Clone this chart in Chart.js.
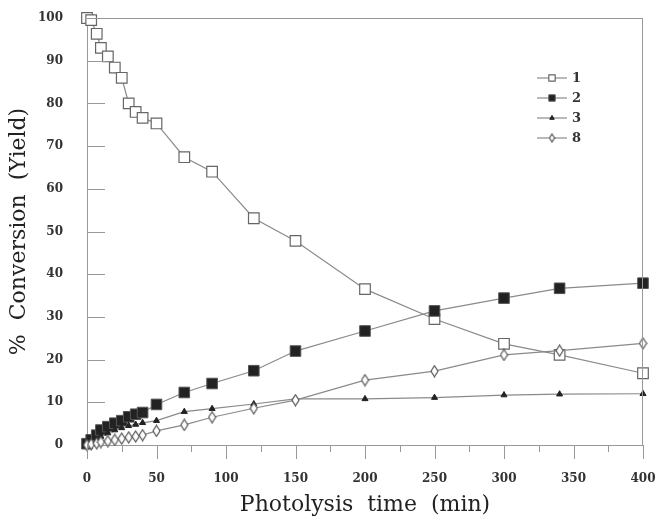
<!DOCTYPE html>
<html>
<head>
<meta charset="utf-8">
<script src="https://cdn.jsdelivr.net/npm/chart.js@4"></script>
<style>
  html, body { margin: 0; padding: 0; background: #fff; }
  #wrap { width: 657px; height: 520px; }
</style>
</head>
<body>
<div id="wrap"><canvas id="chart"></canvas></div>
<script>
// photolysis times (min), shared by all series
const times = [0, 3, 7, 10, 15, 20, 25, 30, 35, 40, 50, 70, 90, 120, 150, 200, 250, 300, 340, 400];
const labels = ['1', '2', '3', '8'];
const conv1 = [100, 99.5, 96.3, 93, 91, 88.4, 86, 80, 78, 76.6, 75.3, 67.4, 64, 53.1, 47.8, 36.5, 29.5, 23.7, 21.1, 16.8];
const yield2 = [0.3, 1.2, 2.3, 3.5, 4.3, 5.1, 5.7, 6.6, 7.2, 7.6, 9.5, 12.3, 14.4, 17.4, 22, 26.7, 31.4, 34.4, 36.7, 37.9];
const yield3 = [0, 0.6, 1.2, 2, 2.8, 3.5, 4, 4.5, 4.8, 5.2, 5.7, 7.8, 8.5, 9.6, 10.8, 10.8, 11.1, 11.7, 11.9, 12.0];
const yield8 = [0, 0.2, 0.4, 0.7, 0.9, 1.2, 1.5, 1.8, 2.0, 2.3, 3.3, 4.7, 6.5, 8.6, 10.5, 15.2, 17.3, 21.1, 22.1, 23.8];
const xTicks = [0, 50, 100, 150, 200, 250, 300, 350, 400];

const serif = "'DejaVu Serif', 'Liberation Serif', serif";

// tall open diamond used for compound 8
function diamond(w, h) {
    const c = document.createElement('canvas');
    c.width = w + 2; c.height = h + 2;
    const g = c.getContext('2d');
    g.beginPath();
    g.moveTo(c.width / 2, 1);
    g.lineTo(c.width - 1, c.height / 2);
    g.lineTo(c.width / 2, c.height - 1);
    g.lineTo(1, c.height / 2);
    g.closePath();
    g.fillStyle = '#fff';
    g.fill();
    g.strokeStyle = '#555';
    g.lineWidth = 1.2;
    g.stroke();
    return c;
}

function pts(ys) {
    return times.map((t, i) => ({ x: t, y: ys[i] }));
}

const styles = [
    { pointStyle: 'rect', pointRadius: 7.5, pointBackgroundColor: '#fff', pointBorderColor: '#666', pointBorderWidth: 1.2 },
    { pointStyle: 'rect', pointRadius: 7.5, pointBackgroundColor: '#222', pointBorderColor: '#555', pointBorderWidth: 1 },
    { pointStyle: 'triangle', pointRadius: 3.5, pointBackgroundColor: '#222', pointBorderColor: '#222', pointBorderWidth: 1 },
    { pointStyle: diamond(7, 11), pointRadius: 5, pointBackgroundColor: '#fff', pointBorderColor: '#555', pointBorderWidth: 1 }
];
const smallDiamond = diamond(5, 8);

const datasets = [conv1, yield2, yield3, yield8].map((ys, i) => Object.assign({
    label: labels[i],
    data: pts(ys),
    showLine: true,
    borderColor: '#8a8a8a',
    borderWidth: 1.2,
    clip: false
}, styles[i])).reverse();

// frame, inward y ticks, downward x ticks, legend
const decor = {
    id: 'decor',
    afterDraw(chart) {
        const ctx = chart.ctx;
        const a = chart.chartArea;
        const xs = chart.scales.x, ys = chart.scales.y;
        ctx.save();
        ctx.strokeStyle = '#999';
        ctx.lineWidth = 1;
        ctx.beginPath();
        ctx.moveTo(a.left, a.top + 0.5); ctx.lineTo(a.right, a.top + 0.5);
        ctx.moveTo(a.right - 0.5, a.top); ctx.lineTo(a.right - 0.5, a.bottom);
        for (let v = 10; v < 100; v += 10) {
            const y = Math.round(ys.getPixelForValue(v)) + 0.5;
            ctx.moveTo(a.left, y); ctx.lineTo(a.left + 18, y);
        }
        for (let v = 0; v <= 400; v += 25) {
            const x = Math.round(xs.getPixelForValue(v)) + 0.5;
            ctx.moveTo(x, a.bottom); ctx.lineTo(x, a.bottom + (v % 50 === 0 ? 14 : 7));
        }
        ctx.stroke();

        // legend
        const lx = 537, ly = 78, step = 20;
        ctx.font = 'bold 13px ' + serif;
        ctx.textBaseline = 'middle';
        labels.forEach((lab, i) => {
            const y = ly + i * step;
            const st = styles[i];
            ctx.strokeStyle = '#8a8a8a';
            ctx.lineWidth = 1.2;
            ctx.beginPath();
            ctx.moveTo(lx, y); ctx.lineTo(lx + 30, y);
            ctx.stroke();
            ctx.fillStyle = st.pointBackgroundColor;
            ctx.strokeStyle = st.pointBorderColor;
            ctx.lineWidth = st.pointBorderWidth;
            Chart.helpers.drawPoint(ctx, {
                pointStyle: i === 3 ? smallDiamond : st.pointStyle,
                radius: i < 2 ? 4.5 : st.pointRadius * 0.75,
                rotation: 0,
                borderWidth: st.pointBorderWidth
            }, lx + 15, y);
            ctx.fillStyle = '#333';
            ctx.fillText(lab, lx + 35, y + 1);
        });
        ctx.restore();
    }
};

function noPad(s) {
    s.paddingTop = 0; s.paddingBottom = 0; s.paddingLeft = 0; s.paddingRight = 0;
}

new Chart(document.getElementById('chart'), {
    type: 'scatter',
    data: { datasets: datasets },
    options: {
        responsive: true,
        maintainAspectRatio: false,
        animation: false,
        layout: { padding: { top: 18, right: 14, left: 0, bottom: 0 } },
        plugins: { legend: { display: false }, tooltip: { enabled: false } },
        scales: {
            x: {
                type: 'linear',
                min: 0, max: 400,
                afterBuildTicks: s => { s.ticks = xTicks.map(v => ({ value: v })); },
                afterFit: s => { s.height = 75; noPad(s); },
                grid: { display: false },
                border: { color: '#999', width: 1 },
                ticks: { color: '#333', padding: 19, maxRotation: 0, font: { family: serif, size: 12, weight: 'bold' } },
                title: { display: true, text: 'Photolysis  time  (min)', color: '#222', padding: { top: 0, bottom: 2 }, font: { family: serif, size: 22 } }
            },
            y: {
                min: 0, max: 100,
                ticks: { stepSize: 10, color: '#333', padding: 16, font: { family: serif, size: 12, weight: 'bold' } },
                afterFit: s => { s.width = 87; noPad(s); },
                grid: { display: false },
                border: { color: '#999', width: 1 },
                title: { display: true, text: '%  Conversion  (Yield)', color: '#222', padding: { top: 6, bottom: 0 }, font: { family: serif, size: 22 } }
            }
        }
    },
    plugins: [decor]
});
</script>
</body>
</html>
